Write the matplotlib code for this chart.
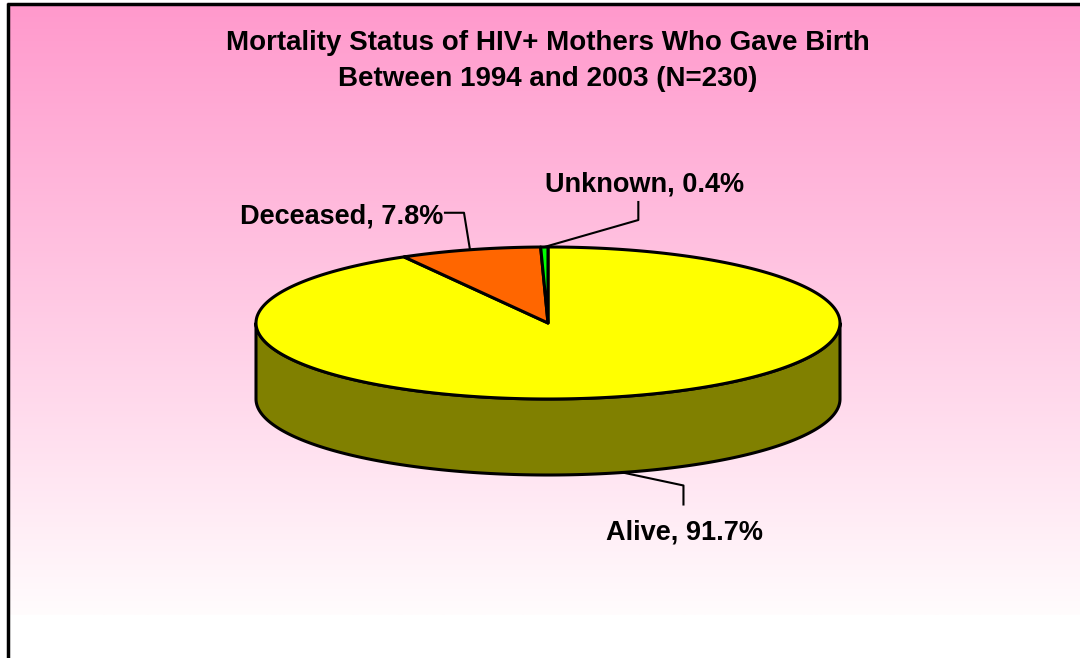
import numpy as np
import matplotlib
matplotlib.use("Agg")
import matplotlib.pyplot as plt
from matplotlib.patches import Polygon

# ---- data ----
categories = ["Alive", "Deceased", "Unknown"]
percents = [91.7, 7.8, 0.4]
title_lines = ["Mortality Status of HIV+ Mothers Who Gave Birth",
               "Between 1994 and 2003 (N=230)"]

# ---- style ----
top_colors = ["#FFFF00", "#FF6600", "#00FF00"]
side_colors = ["#808000", "#993300", "#009900"]
FONT = "Liberation Sans"

W, H = 1080, 658
fig = plt.figure(figsize=(W / 100, H / 100), dpi=100)
ax = fig.add_axes([0, 0, 1, 1])
ax.set_xlim(0, W)
ax.set_ylim(H, 0)
ax.axis("off")

# background gradient (pink -> white)
grad_top, grad_bot = 3, 615
g = np.linspace(0, 1, 256)[:, None]
c0 = np.array([255, 153, 204]) / 255.0
c1 = np.array([255, 252, 253]) / 255.0
img = c0[None, None, :] * (1 - g[..., None]) + c1[None, None, :] * g[..., None]
img = np.repeat(img, 2, axis=1)
ax.imshow(img, extent=[7, W, grad_bot, grad_top], aspect="auto", zorder=0)
ax.plot([7, W], [3.5, 3.5], color="black", lw=2.5, zorder=1,
        solid_capstyle="butt")
ax.plot([7.5, 7.5], [3, H], color="black", lw=2.5, zorder=1,
        solid_capstyle="butt")

# ---- pie geometry ----
cx, cy, a, b, depth = 548, 323, 292, 76, 76

def pt(t, dz=0.0):
    t = np.asarray(t)
    return cx + a * np.cos(t), cy - b * np.sin(t) + dz

total = sum(percents)
fracs = [p / total for p in percents]
# Excel: first slice starts at 12 o'clock and runs clockwise
starts, ends = [], []
cur = np.pi / 2
for f in fracs:
    end = cur - f * 2 * np.pi
    starts.append(cur)
    ends.append(end)
    cur = end

# side walls (only the front half, sin(t) < 0)
for s, e, sc in zip(starts, ends, side_colors):
    lo, hi = min(s, e), max(s, e)
    for k in range(-2, 2):
        f_lo, f_hi = np.pi + 2 * np.pi * k, 2 * np.pi + 2 * np.pi * k
        l, h = max(lo, f_lo), min(hi, f_hi)
        if h > l:
            t = np.linspace(l, h, 200)
            xt, yt = pt(t)
            xb, yb = pt(t[::-1], depth)
            poly = np.column_stack([np.r_[xt, xb], np.r_[yt, yb]])
            ax.add_patch(Polygon(poly, closed=True, facecolor=sc,
                                 edgecolor="black", lw=2.2, joinstyle="round",
                                 zorder=2))

# top faces
for s, e, tc in zip(starts, ends, top_colors):
    n = max(int(abs(s - e) / (2 * np.pi) * 720), 4)
    t = np.linspace(s, e, n)
    xs, ys = pt(t)
    poly = np.column_stack([np.r_[cx, xs], np.r_[cy, ys]])
    ax.add_patch(Polygon(poly, closed=True, facecolor=tc, edgecolor="black",
                         lw=2.2, joinstyle="round", zorder=3))

# ---- labels with leader lines ----
mids = [(s + e) / 2 for s, e in zip(starts, ends)]
leader = {
    "Alive":    dict(elbow=(61, 13), end=(61, 32), ha="center", txt=(62, 60)),
    "Deceased": dict(elbow=(-6, -37), end=(-25, -37), ha="right", txt=(-27, -33)),
    "Unknown":  dict(elbow=(94, -27), end=(94, -45), ha="left", txt=(1, -63)),
}
for cat, p, m in zip(categories, percents, mids):
    front = np.sin(m) < 0
    ax0, ay0 = pt(m, depth if front else 0.0)
    L = leader[cat]
    ex, ey = ax0 + L["elbow"][0], ay0 + L["elbow"][1]
    fx, fy = ax0 + L["end"][0], ay0 + L["end"][1]
    ax.plot([ax0, ex, fx], [ay0, ey, fy], color="black", lw=1.5, zorder=4)
    ax.text(ax0 + L["txt"][0], ay0 + L["txt"][1], f"{cat}, {p}%",
            ha=L["ha"], va="center", fontsize=19.5, fontweight="bold",
            family=FONT, zorder=5)

ax.text(548, 43, title_lines[0], ha="center", va="center", fontsize=20,
        fontweight="bold", family=FONT, zorder=5)
ax.text(548, 79, title_lines[1], ha="center", va="center", fontsize=20,
        fontweight="bold", family=FONT, zorder=5)

fig.savefig("out.png", dpi=100)
